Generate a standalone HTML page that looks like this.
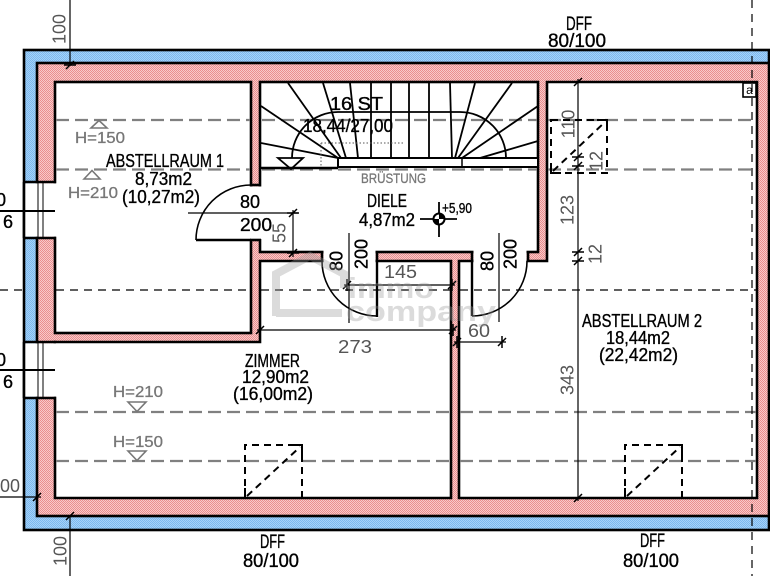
<!DOCTYPE html>
<html><head><meta charset="utf-8"><style>
html,body{margin:0;padding:0;background:#fff;}
svg{display:block;}
text{font-family:"Liberation Sans",sans-serif;}
</style></head><body>
<svg width="770" height="576" viewBox="0 0 770 576" xmlns="http://www.w3.org/2000/svg">
<defs>
<pattern id="rh" width="2" height="2" patternUnits="userSpaceOnUse">
<rect width="2" height="2" fill="#f8caca"/>
<rect x="0" y="0" width="1" height="1" fill="#ea8e8e"/>
<rect x="1" y="1" width="1" height="1" fill="#ea8e8e"/>
</pattern>
<pattern id="bh" width="2" height="2" patternUnits="userSpaceOnUse">
<rect width="2" height="2" fill="#a6d2f8"/>
<rect x="0" y="0" width="1" height="1" fill="#7cb8ee"/>
<rect x="1" y="1" width="1" height="1" fill="#7cb8ee"/>
</pattern>
</defs>
<rect width="770" height="576" fill="#fff"/>

<!-- outer insulation & walls -->
<rect x="24" y="50" width="745" height="480" fill="url(#bh)" stroke="#000" stroke-width="2.6"/>
<rect x="37" y="63" width="732" height="453" fill="url(#rh)" stroke="#000" stroke-width="2.6"/>

<!-- rooms -->
<g fill="#fff" stroke="#000" stroke-width="2.6" stroke-linejoin="miter">
<rect x="55" y="82" width="196" height="251"/>
<rect x="260" y="82" width="278" height="170"/>
<polygon points="55,342 260,342 260,261 451,261 451,498 55,498"/>
<polygon points="547,82 757,82 757,498 459,498 459,261 547,261"/>
</g>

<!-- door openings -->
<g fill="#fff">
<rect x="249" y="186.5" width="13" height="52.5"/>
<rect x="323.5" y="250" width="52" height="13"/>
<rect x="473.5" y="250" width="53" height="13"/>
</g>
<g stroke="#000" stroke-width="2.6">
<line x1="250" y1="185" x2="261" y2="185"/>
<line x1="250" y1="240" x2="261" y2="240"/>
<line x1="322" y1="251" x2="322" y2="262"/>
<line x1="377" y1="251" x2="377" y2="262"/>
<line x1="472" y1="251" x2="472" y2="262"/>
<line x1="528" y1="251" x2="528" y2="262"/>
</g>
<g fill="none" stroke="#000" stroke-width="1.6">
<path d="M251,185 A55,55 0 0 0 196,240"/>
<path d="M322,261 A55,55 0 0 0 377,316"/>
<path d="M527,261 A55,55 0 0 1 472,316"/>
</g>
<g stroke="#000" stroke-width="2.4">
<line x1="196" y1="240" x2="251" y2="240"/>
<line x1="377" y1="261" x2="377" y2="317"/>
<line x1="472" y1="261" x2="472" y2="316"/>
</g>

<!-- windows left -->
<rect x="23" y="183.3" width="33.5" height="53.4" fill="#fff"/>
<rect x="23" y="343.3" width="33.5" height="53.4" fill="#fff"/>
<g stroke="#000" stroke-width="2.6">
<line x1="24" y1="182" x2="24" y2="238"/>
<line x1="24" y1="342" x2="24" y2="398"/>
<line x1="24" y1="182" x2="56" y2="182"/>
<line x1="24" y1="238" x2="56" y2="238"/>
<line x1="24" y1="342" x2="56" y2="342"/>
<line x1="24" y1="398" x2="56" y2="398"/>
</g>
<g stroke="#000" stroke-width="1" fill="none">
<rect x="38" y="182" width="5" height="56"/>
<rect x="38" y="342" width="5" height="56"/>
</g>
<g stroke="#000" stroke-width="2">
<line x1="0" y1="211" x2="55" y2="211"/>
<line x1="0" y1="370" x2="55" y2="370"/>
</g>

<!-- gray H dashed lines -->
<g stroke="#808080" stroke-width="2.2" stroke-dasharray="13 6">
<line x1="56" y1="120" x2="250" y2="120"/>
<line x1="262" y1="120" x2="537" y2="120"/>
<line x1="548" y1="120" x2="756" y2="120"/>
<line x1="56" y1="169.5" x2="250" y2="169.5"/>
<line x1="262" y1="169.5" x2="537" y2="169.5"/>
<line x1="548" y1="169.5" x2="756" y2="169.5"/>
<line x1="56" y1="412" x2="450" y2="412"/>
<line x1="460" y1="412" x2="756" y2="412"/>
<line x1="56" y1="461" x2="450" y2="461"/>
<line x1="460" y1="461" x2="756" y2="461"/>
</g>

<!-- black thin dashed horizontal -->
<g stroke="#000" stroke-width="1.2" stroke-dasharray="8 6">
<line x1="0" y1="290" x2="24" y2="290"/>
<line x1="56" y1="290" x2="250" y2="290"/>
<line x1="261" y1="290" x2="450" y2="290"/>
<line x1="460" y1="290" x2="756" y2="290"/>
</g>

<!-- stair -->
<g stroke="#000" stroke-width="1.8" fill="none">
<line x1="261" y1="106" x2="338" y2="158"/>
<line x1="261" y1="143" x2="338" y2="158"/>
<line x1="288" y1="83" x2="341" y2="158"/>
<line x1="323" y1="83" x2="346" y2="158"/>
<line x1="350" y1="83" x2="358" y2="158"/>
<line x1="371" y1="83" x2="371" y2="158"/>
<line x1="391" y1="83" x2="391" y2="158"/>
<line x1="409" y1="83" x2="409" y2="158"/>
<line x1="429" y1="83" x2="429" y2="158"/>
<line x1="450" y1="83" x2="452" y2="158"/>
<line x1="475" y1="83" x2="455" y2="158"/>
<line x1="512" y1="83" x2="458" y2="158"/>
<line x1="538" y1="106" x2="462" y2="158"/>
<line x1="538" y1="141" x2="480" y2="158"/>
<path d="M292,158 A46,46 0 0 1 338,112 L460,112 A46,46 0 0 1 506,158"/>
<polygon points="278,158 303,158 291,169"/>
</g>
<g stroke="#555" stroke-width="1" stroke-dasharray="1.5 2" fill="none">
<line x1="321" y1="143" x2="403" y2="143"/>
<line x1="321" y1="143" x2="321" y2="168"/>
</g>
<line x1="261" y1="168" x2="338" y2="168" stroke="#000" stroke-width="2.6"/>
<rect x="338" y="158" width="200" height="9" fill="#fff" stroke="#000" stroke-width="2"/>
<line x1="462" y1="158" x2="462" y2="167" stroke="#000" stroke-width="1.5"/>

<!-- roof windows -->
<g stroke="#000" stroke-width="2" fill="none" stroke-dasharray="7 5">
<path d="M245,498 L245,445 L302,445 L302,498"/>
<line x1="247" y1="496" x2="300" y2="447"/>
<path d="M625,498 L625,445 L682,445 L682,498"/>
<line x1="627" y1="496" x2="680" y2="447"/>
<rect x="551" y="120" width="56" height="53"/>
<line x1="553" y1="171" x2="605" y2="122"/>
</g>
<g stroke="#000" stroke-width="2" fill="none">
<path d="M292,445 L302,445 L302,455"/>
<path d="M672,445 L682,445 L682,455"/>
<path d="M597,120 L607,120 L607,130"/>
<path d="M245,488 L245,498 L255,498"/>
<path d="M625,488 L625,498 L635,498"/>
<path d="M551,163 L551,173 L561,173"/>
</g>

<!-- H triangles -->
<g stroke="#777" stroke-width="1.6" fill="none">
<polygon points="91,128 99,120.5 107,128"/>
<polygon points="84,179 92,170.5 100,179"/>
<polygon points="128,402 146,402 137,411.5"/>
<polygon points="128,451 146,451 137,460.5"/>
</g>

<!-- dimension lines -->
<g stroke="#000" stroke-width="1.2" fill="none">
<line x1="70" y1="0" x2="70" y2="66"/>
<line x1="70" y1="515" x2="70" y2="576"/>
<line x1="0" y1="497" x2="41" y2="497"/>
<line x1="188" y1="213" x2="298" y2="213"/>
<line x1="293" y1="210" x2="293" y2="257"/>
<line x1="344" y1="285" x2="455" y2="285"/>
<line x1="257" y1="330" x2="456" y2="330"/>
<line x1="454" y1="342" x2="506" y2="342"/>
<line x1="349" y1="233" x2="349" y2="323"/>
<line x1="499" y1="233" x2="499" y2="322"/>
<line x1="578" y1="79" x2="578" y2="501"/>
</g>
<g stroke="#000" stroke-width="1.5" fill="none">
<path d="M66,69 L74,61 M64,65 L76,65"/>
<path d="M66,520 L74,512 M64,516 L76,516"/>
<path d="M289,217 L297,209 M287,213 L299,213"/>
<path d="M289,257 L297,249 M287,253 L299,253"/>
<path d="M574,86 L582,78 M572,82 L584,82"/>
<path d="M574,161 L582,153 M572,157 L584,157"/>
<path d="M574,170 L582,162 M572,166 L584,166"/>
<path d="M574,256 L582,248 M572,252 L584,252"/>
<path d="M574,265 L582,257 M572,261 L584,261"/>
<path d="M574,502 L582,494 M572,498 L584,498"/>
<path d="M33,501 L41,493 M37,491 L37,503"/>
<path d="M343,289 L351,281 M347,279 L347,291"/>
<path d="M448,289 L456,281 M452,279 L452,291"/>
<path d="M256,334 L264,326 M260,324 L260,336"/>
<path d="M449,334 L457,326 M453,324 L453,336"/>
<path d="M453,346 L461,338 M457,336 L457,348"/>
<path d="M498,346 L506,338 M502,336 L502,348"/>
</g>

<!-- level marker -->
<g stroke="#000" stroke-width="1.8">
<line x1="420" y1="219" x2="457" y2="219"/>
<line x1="439" y1="202" x2="439" y2="237"/>
</g>
<circle cx="439" cy="219" r="5.5" fill="#fff" stroke="#000" stroke-width="2"/>
<path d="M439,219 L439,213.5 A5.5,5.5 0 0 1 444.5,219 Z M439,219 L439,224.5 A5.5,5.5 0 0 1 433.5,219 Z" fill="#000"/>

<!-- small a box -->
<rect x="743" y="83" width="13" height="14" fill="#fff" stroke="#000" stroke-width="1.6"/>
<text x="749.5" y="94" font-size="12" text-anchor="middle" fill="#000">a</text>

<!-- texts black -->
<g fill="#000" font-size="18" stroke="#000" stroke-width="0.35">
<text x="106" y="167" textLength="118" lengthAdjust="spacingAndGlyphs">ABSTELLRAUM 1</text>
<text x="135" y="185" textLength="57" lengthAdjust="spacingAndGlyphs">8,73m2</text>
<text x="122" y="203" textLength="78" lengthAdjust="spacingAndGlyphs">(10,27m2)</text>
<text x="240" y="208" textLength="20" lengthAdjust="spacingAndGlyphs">80</text>
<text x="240" y="231" textLength="32" lengthAdjust="spacingAndGlyphs">200</text>
<text x="330" y="110" textLength="53" lengthAdjust="spacingAndGlyphs">16  ST</text>
<text x="303" y="132" textLength="90" lengthAdjust="spacingAndGlyphs">18,44/27,00</text>
<text x="367" y="207" textLength="40" lengthAdjust="spacingAndGlyphs">DIELE</text>
<text x="359" y="226" textLength="56" lengthAdjust="spacingAndGlyphs">4,87m2</text>
<text x="442" y="213" font-size="15" textLength="30" lengthAdjust="spacingAndGlyphs">+5,90</text>
<text x="245" y="367" textLength="55" lengthAdjust="spacingAndGlyphs">ZIMMER</text>
<text x="242" y="383" textLength="67" lengthAdjust="spacingAndGlyphs">12,90m2</text>
<text x="233" y="400" textLength="80" lengthAdjust="spacingAndGlyphs">(16,00m2)</text>
<text x="582" y="327" textLength="120" lengthAdjust="spacingAndGlyphs">ABSTELLRAUM 2</text>
<text x="606" y="344" textLength="64" lengthAdjust="spacingAndGlyphs">18,44m2</text>
<text x="599" y="361" textLength="79" lengthAdjust="spacingAndGlyphs">(22,42m2)</text>
<text x="566" y="30" font-size="19" textLength="26" lengthAdjust="spacingAndGlyphs">DFF</text>
<text x="548" y="47" font-size="19" textLength="58" lengthAdjust="spacingAndGlyphs">80/100</text>
<text x="260" y="548" font-size="19" textLength="25" lengthAdjust="spacingAndGlyphs">DFF</text>
<text x="243" y="567" font-size="19" textLength="56" lengthAdjust="spacingAndGlyphs">80/100</text>
<text x="640" y="547" font-size="19" textLength="25" lengthAdjust="spacingAndGlyphs">DFF</text>
<text x="623" y="567" font-size="19" textLength="56" lengthAdjust="spacingAndGlyphs">80/100</text>
<text x="6" y="206" text-anchor="end">80</text>
<text x="3" y="228">6</text>
<text x="6" y="366" text-anchor="end">80</text>
<text x="3" y="388">6</text>
<text transform="translate(336,261) rotate(-90)" text-anchor="middle" dy="0.36em">80</text>
<text transform="translate(361,254) rotate(-90)" text-anchor="middle" dy="0.36em">200</text>
<text transform="translate(487,261) rotate(-90)" text-anchor="middle" dy="0.36em">80</text>
<text transform="translate(510,254) rotate(-90)" text-anchor="middle" dy="0.36em">200</text>
</g>

<!-- gray texts -->
<g fill="#777" font-size="16" stroke="#777" stroke-width="0.3">
<text x="75" y="143" textLength="50" lengthAdjust="spacingAndGlyphs">H=150</text>
<text x="68" y="198" textLength="50" lengthAdjust="spacingAndGlyphs">H=210</text>
<text x="113" y="397" textLength="50" lengthAdjust="spacingAndGlyphs">H=210</text>
<text x="113" y="447" textLength="50" lengthAdjust="spacingAndGlyphs">H=150</text>
<text x="361" y="183" font-size="14" textLength="65" lengthAdjust="spacingAndGlyphs">BRÜSTUNG</text>
</g>
<g fill="#555" font-size="18">
<text x="0" y="492" textLength="20" lengthAdjust="spacingAndGlyphs">00</text>
<text x="384" y="278" textLength="33" lengthAdjust="spacingAndGlyphs">145</text>
<text x="338" y="353" textLength="34" lengthAdjust="spacingAndGlyphs">273</text>
<text x="468" y="337" textLength="22" lengthAdjust="spacingAndGlyphs">60</text>
<text transform="translate(59,29) rotate(-90)" text-anchor="middle" dy="0.36em">100</text>
<text transform="translate(60,551) rotate(-90)" text-anchor="middle" dy="0.36em">100</text>
<text transform="translate(279,233) rotate(-90)" text-anchor="middle" dy="0.36em">55</text>
<text transform="translate(568,124) rotate(-90)" text-anchor="middle" dy="0.36em">110</text>
<text transform="translate(596,161) rotate(-90)" text-anchor="middle" dy="0.36em">12</text>
<text transform="translate(567,210) rotate(-90)" text-anchor="middle" dy="0.36em">123</text>
<text transform="translate(595,254) rotate(-90)" text-anchor="middle" dy="0.36em">12</text>
<text transform="translate(567,380) rotate(-90)" text-anchor="middle" dy="0.36em">343</text>
</g>

<!-- vertical dashed axis -->
<line x1="752" y1="0" x2="752" y2="576" stroke="#000" stroke-width="1.2" stroke-dasharray="8 6"/>

<!-- watermark -->
<g opacity="0.35">
<polyline points="276,316 276,274 310,256 344,274 344,288" fill="none" stroke="#9a9a9a" stroke-width="8"/>
<line x1="276" y1="313" x2="342" y2="313" stroke="#9a9a9a" stroke-width="8"/>
<text x="348" y="298" font-size="29" font-weight="bold" fill="#9a9a9a" textLength="86" lengthAdjust="spacingAndGlyphs">immo</text>
<text x="346" y="321" font-size="29" font-weight="bold" fill="#9a9a9a" textLength="150" lengthAdjust="spacingAndGlyphs">company</text>
</g>
</svg>
</body></html>
